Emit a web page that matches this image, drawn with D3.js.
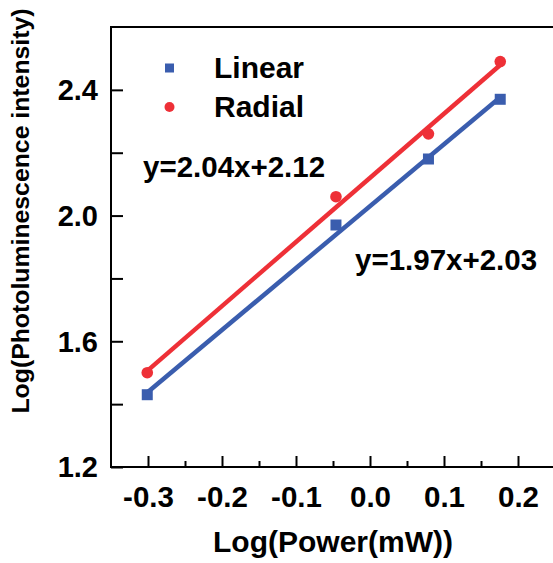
<!DOCTYPE html>
<html>
<head>
<meta charset="utf-8">
<script src="https://cdn.jsdelivr.net/npm/d3@7"></script>
<style>
  html, body { margin: 0; padding: 0; background: #fff; }
  svg text { font-family: "Liberation Sans", Arial, sans-serif; font-weight: bold; fill: #000; }
</style>
</head>
<body>
<svg id="chart" width="553" height="563"></svg>
<script>
// ---- data ----
const logPower = [-0.301, -0.046, 0.079, 0.176];
const linearValues = [1.43, 1.97, 2.18, 2.37];
const radialValues = [1.50, 2.06, 2.26, 2.49];
const seriesNames = ["Linear", "Radial"];
const fitSlopes = [1.97, 2.04];
const fitIntercepts = [2.03, 2.12];
const fitLabels = ["y=1.97x+2.03", "y=2.04x+2.12"];
const xTicks = [-0.3, -0.2, -0.1, 0.0, 0.1, 0.2];
const xMinorTicks = [-0.25, -0.15, -0.05, 0.05, 0.15];
const yTicks = [1.2, 1.6, 2.0, 2.4];
const yMinorTicks = [1.4, 1.8, 2.2];
const xTitle = "Log(Power(mW))";
const yTitle = "Log(Photoluminescence intensity)";

(function () {
// ---- layout ----
const mLeft = 111, mRight = 555, mTop = 27, mBottom = 467;
const colors = ["#3A5DAE", "#EE3037"];

const svg = d3.select("#chart");
const x = d3.scaleLinear().domain([-0.35, 0.25]).range([mLeft, mRight]);
const y = d3.scaleLinear().domain([1.2, 2.6]).range([mBottom, mTop]);

// fit lines
const series = [linearValues, radialValues];
series.forEach((vals, i) => {
  const x0 = d3.min(logPower), x1 = d3.max(logPower);
  const pts = [x0, x1].map(v => [v, fitSlopes[i] * v + fitIntercepts[i]]);
  svg.append("path")
    .attr("d", d3.line().x(d => x(d[0])).y(d => y(d[1]))(pts))
    .attr("stroke", colors[i]).attr("stroke-width", 4.5).attr("fill", "none");
});

// markers
svg.append("g").selectAll("rect").data(linearValues).join("rect")
  .attr("x", (d, i) => x(logPower[i]) - 5.5).attr("y", d => y(d) - 5.5)
  .attr("width", 11).attr("height", 11).attr("fill", colors[0]);
svg.append("g").selectAll("circle").data(radialValues).join("circle")
  .attr("cx", (d, i) => x(logPower[i])).attr("cy", d => y(d))
  .attr("r", 5.8).attr("fill", colors[1]);

// axes (frame)
const fmt = d => d3.format(".1f")(d).replace("\u2212", "-");
const xAxis = d3.axisBottom(x).tickValues(xTicks).tickSize(-11).tickFormat(fmt);
const gx = svg.append("g").attr("transform", `translate(0,${mBottom})`).call(xAxis);
gx.select(".domain").remove();
gx.selectAll(".tick line").attr("stroke", "#000").attr("stroke-width", 2);
gx.selectAll(".tick text").attr("y", 40).attr("dy", 0).style("font-size", "29.5px");
svg.append("g").attr("transform", `translate(0,${mBottom})`)
  .call(d3.axisBottom(x).tickValues(xMinorTicks).tickSize(-6).tickFormat(""))
  .call(g => g.select(".domain").remove())
  .selectAll(".tick line").attr("stroke", "#000").attr("stroke-width", 2);

const yAxis = d3.axisLeft(y).tickValues(yTicks).tickSize(-12).tickFormat(fmt);
const gy = svg.append("g").attr("transform", `translate(${mLeft},0)`).call(yAxis);
gy.select(".domain").remove();
gy.selectAll(".tick line").attr("stroke", "#000").attr("stroke-width", 2);
gy.selectAll(".tick text").attr("x", -13).attr("dy", "0.34em").style("font-size", "29px");
svg.append("g").attr("transform", `translate(${mLeft},0)`)
  .call(d3.axisLeft(y).tickValues(yMinorTicks).tickSize(-12).tickFormat(""))
  .call(g => g.select(".domain").remove())
  .selectAll(".tick line").attr("stroke", "#000").attr("stroke-width", 2);

svg.append("rect").attr("x", mLeft).attr("y", mTop)
  .attr("width", mRight - mLeft).attr("height", mBottom - mTop)
  .attr("fill", "none").attr("stroke", "#000").attr("stroke-width", 2);

// axis titles
svg.append("text").attr("x", (mLeft + mRight) / 2).attr("y", 552)
  .attr("text-anchor", "middle").style("font-size", "30px").text(xTitle);
svg.append("text").attr("transform", "translate(29,211) rotate(-90)")
  .attr("text-anchor", "middle").style("font-size", "24.8px").text(yTitle);

// legend
const legY = [68, 107];
svg.append("rect").attr("x", 169.5 - 4.5).attr("y", legY[0] - 4.5).attr("width", 9).attr("height", 9).attr("fill", colors[0]);
svg.append("circle").attr("cx", 169.5).attr("cy", legY[1]).attr("r", 5).attr("fill", colors[1]);
seriesNames.forEach((n, i) => {
  svg.append("text").attr("x", 214).attr("y", legY[i] + 10).style("font-size", "30px").text(n);
});

// fit equations
svg.append("text").attr("x", 143).attr("y", 177).style("font-size", "29.5px").text(fitLabels[1]);
svg.append("text").attr("x", 355).attr("y", 270).style("font-size", "29.5px").text(fitLabels[0]);
})();
</script>
</body>
</html>
